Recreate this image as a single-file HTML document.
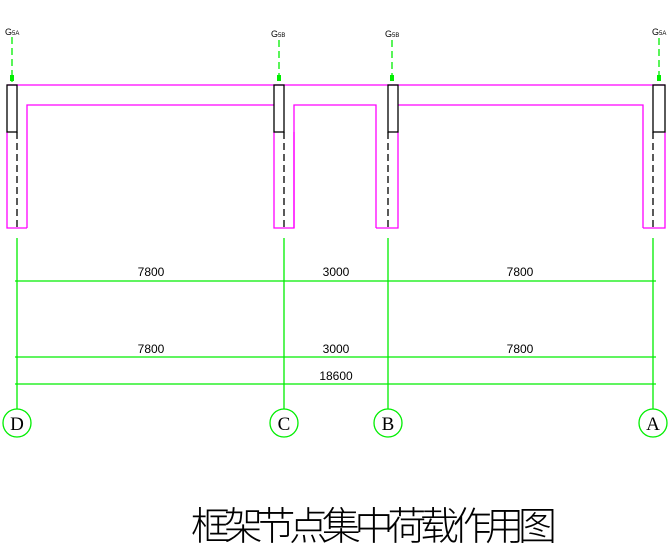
<!DOCTYPE html>
<html><head><meta charset="utf-8"><style>body{margin:0;background:#fff}svg{display:block}</style></head><body>
<svg width="669" height="556" xmlns="http://www.w3.org/2000/svg" font-family="Liberation Sans, sans-serif">
<g fill="none" stroke="#ff00ff" stroke-width="1.3">
<line x1="7" y1="85" x2="665" y2="85"/>
<polyline points="27,228 27,105 274,105"/>
<polyline points="294,228 294,105 376,105 376,228"/>
<polyline points="398,105 643,105 643,228"/>
<polyline points="7,132 7,228 27,228"/>
<polyline points="274,132 274,228 294,228 294,132"/>
<polyline points="376,228 398,228 398,132"/>
<polyline points="643,228 665,228 665,132"/>
</g>
<g fill="none" stroke="#000" stroke-width="1.3">
<rect x="7" y="85" width="10" height="47"/>
<rect x="274" y="85" width="10" height="47"/>
<rect x="388" y="85" width="10" height="47"/>
<rect x="653" y="85" width="12" height="47"/>
<g stroke-dasharray="7,4"><line x1="17" y1="132" x2="17" y2="228"/><line x1="284" y1="132" x2="284" y2="228"/><line x1="388" y1="132" x2="388" y2="228"/><line x1="653" y1="132" x2="653" y2="228"/></g>
</g>
<g stroke="#00ee00" stroke-width="1.3" fill="none">
<g stroke-dasharray="7,4"><line x1="12" y1="37" x2="12" y2="82"/><line x1="279" y1="40" x2="279" y2="82"/><line x1="392" y1="40" x2="392" y2="82"/><line x1="659" y1="38" x2="659" y2="82"/></g>
<line x1="17" y1="238" x2="17" y2="409"/><line x1="284" y1="238" x2="284" y2="409"/><line x1="388" y1="238" x2="388" y2="409"/><line x1="653" y1="238" x2="653" y2="409"/>
<line x1="15" y1="281" x2="656" y2="281"/><line x1="15" y1="357" x2="656" y2="357"/><line x1="15" y1="384" x2="656" y2="384"/>
<circle cx="17" cy="423" r="14"/><circle cx="284" cy="423" r="14"/><circle cx="388" cy="423" r="14"/><circle cx="653" cy="423" r="14"/>
</g>
<g fill="#00ee00"><rect x="10" y="75" width="4" height="6"/><rect x="277" y="75" width="4" height="6"/><rect x="390" y="75" width="4" height="6"/><rect x="657" y="75" width="4" height="6"/></g>
<g font-size="9" fill="#000"><text x="5" y="35">G<tspan font-size="6">5A</tspan></text><text x="271" y="37">G<tspan font-size="6">5B</tspan></text><text x="385" y="37">G<tspan font-size="6">5B</tspan></text><text x="652" y="35">G<tspan font-size="6">5A</tspan></text></g>
<g font-size="12" fill="#000" text-anchor="middle"><text x="151" y="276">7800</text><text x="336" y="276">3000</text><text x="520" y="276">7800</text><text x="151" y="353">7800</text><text x="336" y="353">3000</text><text x="520" y="353">7800</text><text x="336" y="380">18600</text></g>
<g font-family="Liberation Serif, serif" font-size="19" fill="#000" text-anchor="middle"><text x="17" y="430">D</text><text x="284" y="430">C</text><text x="388" y="430">B</text><text x="653" y="430">A</text></g>
<text x="374" y="540" font-family="Liberation Sans, 'Noto Sans CJK SC', sans-serif" font-size="39" font-weight="200" text-anchor="middle" fill="#000" textLength="366">框架节点集中荷载作用图</text>
</svg>
</body></html>
